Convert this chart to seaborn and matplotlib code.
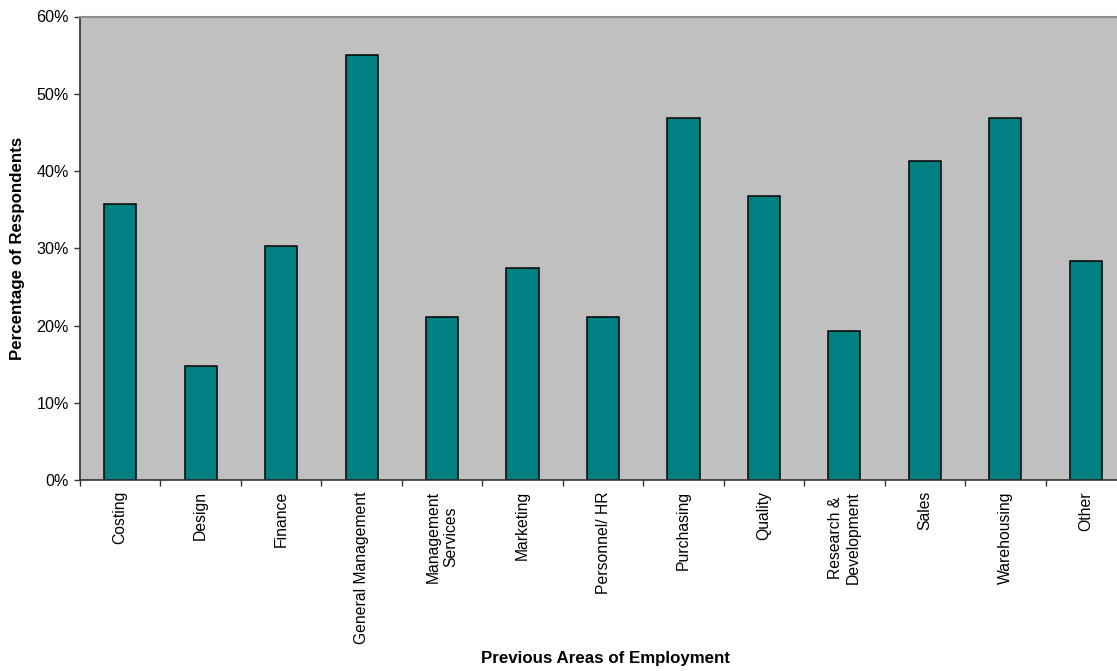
import matplotlib
matplotlib.use("Agg")
import matplotlib.pyplot as plt
import matplotlib.ticker as mticker
import numpy as np
import pandas as pd
import seaborn as sns

# Share of respondents by previous area of employment (%)
areas = [
    "Costing", "Design", "Finance", "General Management",
    "Management\nServices", "Marketing", "Personnel/ HR", "Purchasing",
    "Quality", "Research &\nDevelopment", "Sales", "Warehousing", "Other",
]
percentages = [35.7, 14.7, 30.3, 55.0, 21.1, 27.5, 21.1, 46.8, 36.7, 19.3, 41.3, 46.8, 28.4]
y_ticks = [0, 10, 20, 30, 40, 50, 60]

sns.set_theme(style="white")
plt.rcParams["font.family"] = ["Liberation Sans", "DejaVu Sans"]
plt.rcParams["text.color"] = "black"

df = pd.DataFrame({"area": areas, "pct": percentages})

W, H = 1117, 671
fig = plt.figure(figsize=(W / 100, H / 100), dpi=100)
left, right, top, bottom = 80, 1126, 16.5, 480
ax = fig.add_axes([left / W, 1 - bottom / H, (right - left) / W, (bottom - top) / H])
ax.set_facecolor("#C0C0C0")

sns.barplot(data=df, x="area", y="pct", ax=ax, color="#008080", width=0.4,
            edgecolor="black", linewidth=1.1, saturation=1)

ax.set_xlim(-0.5, len(areas) - 0.5)
ax.set_ylim(0, 60)
ax.set_yticks(y_ticks)
ax.yaxis.set_major_formatter(mticker.PercentFormatter(decimals=0))

# category boundaries carry the tick marks, labels sit at the bar centres
ax.set_xticks(np.arange(len(areas) + 1) - 0.5, minor=True)
ax.tick_params(axis="x", which="minor", length=4, width=1, color="#333333", direction="out", bottom=True)
ax.tick_params(axis="x", which="major", length=0, pad=8, labelsize=11.3, labelcolor="black")
ax.tick_params(axis="y", which="major", length=4, width=1, color="#333333", direction="out",
               left=True, pad=4, labelsize=11.6, labelcolor="black")
for lbl in ax.get_xticklabels():
    lbl.set_rotation(90)
    lbl.set_ha("center")
    lbl.set_va("top")
    lbl.set_multialignment("center")

for side in ("left", "bottom"):
    ax.spines[side].set_color("#333333")
    ax.spines[side].set_linewidth(1.2)
ax.spines["top"].set_color("#8C8C8C")
ax.spines["top"].set_linewidth(1.5)
ax.spines["right"].set_visible(False)

ax.set_xlabel("")
ax.set_ylabel("")
fig.text(18 / W, 1 - 248 / H, "Percentage of Respondents", rotation=90,
         ha="center", va="center", fontsize=12.2, fontweight="bold", color="black")
fig.text(605 / W, 1 - 659 / H, "Previous Areas of Employment",
         ha="center", va="center", fontsize=12.2, fontweight="bold", color="black")

fig.savefig("out.png", dpi=100, facecolor="white")
